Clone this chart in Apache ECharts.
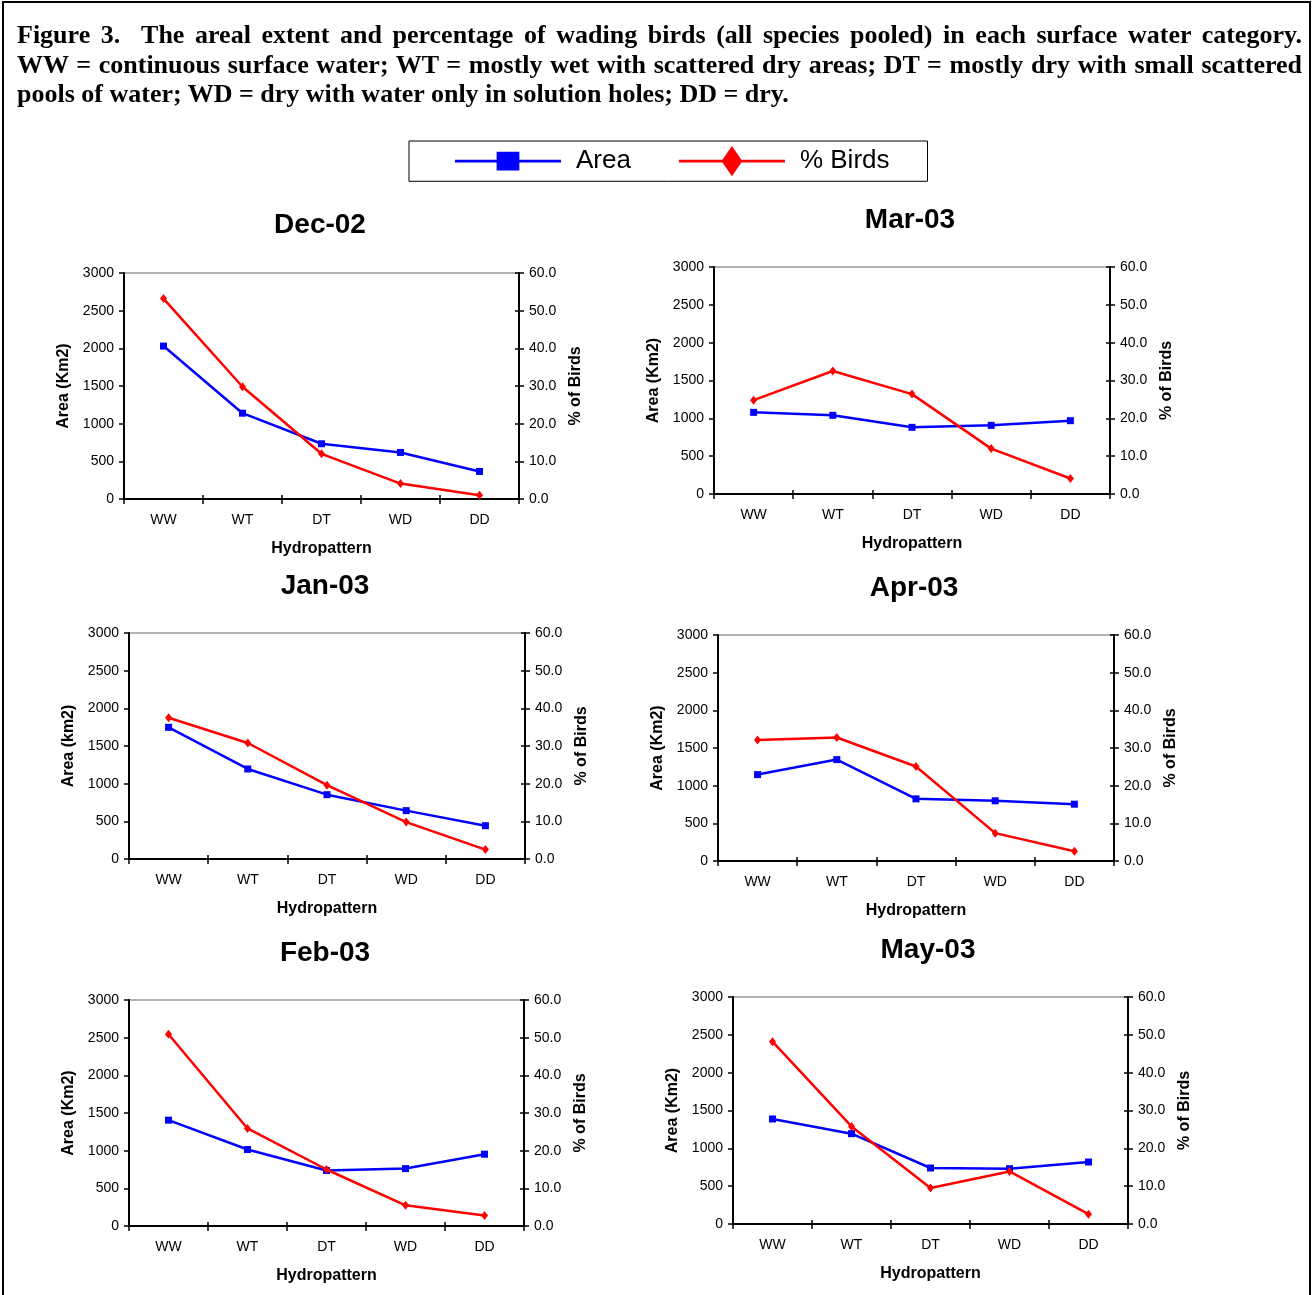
<!DOCTYPE html>
<html>
<head>
<meta charset="utf-8">
<title>Figure 3</title>
<script src="https://cdn.jsdelivr.net/npm/echarts@6/dist/echarts.min.js"></script>
<style>
  html, body { margin: 0; padding: 0; background: #fff; }
  #frame {
    position: absolute; left: 2px; top: 1px; width: 1305px; height: 1310px;
    border: 2px solid #000; pointer-events: none;
  }
  #caption {
    position: absolute; left: 17px; top: 20px; width: 1285px;
    font-family: 'Liberation Serif', 'Times New Roman', serif; font-weight: bold;
    font-size: 26px; line-height: 29.5px; color: #000;
  }
  #caption div { white-space: nowrap; }
  #caption .j { text-align: justify; text-align-last: justify; }
  #chart { position: absolute; left: 0; top: 0; width: 1312px; height: 1295px; }
</style>
</head>
<body>
<div id="chart"></div>
<div id="caption">
  <div class="j">Figure 3.&nbsp; The areal extent and percentage of wading birds (all species pooled) in each surface water category.</div>
  <div class="j">WW = continuous surface water; WT = mostly wet with scattered dry areas; DT = mostly dry with small scattered</div>
  <div>pools of water; WD = dry with water only in solution holes; DD = dry.</div>
</div>
<div id="frame"></div>
<script>
// categories and values
const categories = ['WW', 'WT', 'DT', 'WD', 'DD']
const panelTitles = ['Dec-02', 'Mar-03', 'Jan-03', 'Apr-03', 'Feb-03', 'May-03']
const areaNames = ['Area (Km2)', 'Area (Km2)', 'Area (km2)', 'Area (Km2)', 'Area (Km2)', 'Area (Km2)']

const areaDec02 = [2030, 1139, 733, 618, 366]
const birdsDec02 = [53.2, 29.8, 12.0, 4.1, 1.0]
const areaMar03 = [1079, 1040, 881, 907, 969]
const birdsMar03 = [24.8, 32.5, 26.4, 12.0, 4.1]
const areaJan03 = [1748, 1195, 854, 642, 442]
const birdsJan03 = [37.5, 30.8, 19.6, 9.8, 2.5]
const areaApr03 = [1147, 1346, 825, 799, 754]
const birdsApr03 = [32.1, 32.8, 25.1, 7.4, 2.6]
const areaFeb03 = [1405, 1015, 736, 762, 953]
const birdsFeb03 = [50.9, 25.9, 15.0, 5.5, 2.8]
const areaMay03 = [1388, 1194, 740, 731, 819]
const birdsMay03 = [48.2, 25.8, 9.5, 13.9, 2.6]

const areaSeries = [areaDec02, areaMar03, areaJan03, areaApr03, areaFeb03, areaMay03]
const birdSeries = [birdsDec02, birdsMar03, birdsJan03, birdsApr03, birdsFeb03, birdsMay03]

// axis ranges
const areaMax = 3000
const areaStep = 500
const birdsMax = 60
const birdsStep = 10

// panel placement: plot box [left, top, width, height], title centre [x, y]
const boxes = [
  [124, 273, 395, 226],
  [714, 267, 396, 227],
  [129, 633, 396, 226],
  [718, 635, 396, 226],
  [129, 1000, 395, 226],
  [733, 997, 395, 227]
]
const titleAt = [[320, 223], [910, 218], [325, 584], [914, 586], [325, 951], [928, 948]]

const FONT = "'Liberation Sans', Arial, sans-serif"
const BLUE = '#0000ff'
const RED = '#ff0000'

// legend glyphs: line with square / line with tall diamond (the tiny zero-area
// moves keep both boxes the same size so the square is not stretched)
const areaIcon = 'path://M0,0L0,0ZM112,32L112,32ZM0,14.5L44,14.5L44,6L68,6L68,14.5L112,14.5L112,17.5L68,17.5L68,26L44,26L44,17.5L0,17.5Z'
const birdsIcon = 'path://M0,14.5L46,14.5L56,0L66,14.5L112,14.5L112,17.5L66,17.5L56,32L46,17.5L0,17.5Z'

const chart = echarts.init(document.getElementById('chart'))

const grid = []
const xAxis = []
const yAxis = []
const series = []
const title = []

const nameStyle = { fontFamily: FONT, fontSize: 16, fontWeight: 'bold', color: '#000' }
const tickStyle = { color: '#000', width: 1.5 }
const labelStyle = { fontFamily: FONT, fontSize: 14, color: '#000' }

boxes.forEach((b, i) => {
  grid.push({
    left: b[0], top: b[1], width: b[2], height: b[3],
    show: true, borderColor: '#666', borderWidth: 1, backgroundColor: 'transparent'
  })
  title.push({
    text: panelTitles[i], left: titleAt[i][0], top: titleAt[i][1] - 12, textAlign: 'center', padding: 0,
    textStyle: { fontFamily: FONT, fontSize: 28, fontWeight: 'bold', color: '#000' }
  })
  xAxis.push({
    type: 'category', gridIndex: i, data: categories, boundaryGap: true,
    name: 'Hydropattern', nameLocation: 'middle', nameGap: 42, nameTextStyle: nameStyle,
    axisLine: { lineStyle: { color: '#000', width: 2 } },
    axisTick: { show: true, length: 5, alignWithLabel: false, lineStyle: tickStyle },
    axisLabel: { ...labelStyle, margin: 14 },
    splitLine: { show: false }
  })
  // inner half of the crossing ticks
  xAxis.push({
    type: 'category', gridIndex: i, data: categories, boundaryGap: true, position: 'bottom',
    axisLine: { show: false },
    axisTick: { show: true, inside: true, length: 4, alignWithLabel: false, lineStyle: tickStyle },
    axisLabel: { show: false }, splitLine: { show: false }
  })
  yAxis.push({
    type: 'value', gridIndex: i, position: 'left', min: 0, max: areaMax, interval: areaStep,
    name: areaNames[i], nameLocation: 'middle', nameGap: 52, nameTextStyle: nameStyle,
    axisLine: { show: true, lineStyle: { color: '#000', width: 2 } },
    axisTick: { show: true, length: 5, lineStyle: tickStyle },
    axisLabel: { ...labelStyle, margin: 10, formatter: v => String(v) },
    splitLine: { show: false }
  })
  yAxis.push({
    type: 'value', gridIndex: i, position: 'right', min: 0, max: birdsMax, interval: birdsStep,
    name: '% of Birds', nameLocation: 'middle', nameGap: 49, nameRotate: 90, nameTextStyle: nameStyle,
    axisLine: { show: true, lineStyle: { color: '#000', width: 2 } },
    axisTick: { show: true, length: 5, lineStyle: tickStyle },
    axisLabel: { ...labelStyle, margin: 10, formatter: v => v.toFixed(1) },
    splitLine: { show: false }
  })
  yAxis.push({
    type: 'value', gridIndex: i, position: 'right', offset: 0, min: 0, max: birdsMax, interval: birdsStep,
    axisLine: { show: false },
    axisTick: { show: true, inside: true, length: 4, lineStyle: tickStyle },
    axisLabel: { show: false }, splitLine: { show: false }
  })
  series.push({
    name: 'Area', type: 'line', xAxisIndex: i * 2, yAxisIndex: i * 3, data: areaSeries[i],
    symbol: 'rect', symbolSize: 7, color: BLUE,
    lineStyle: { color: BLUE, width: 2.5 }, itemStyle: { color: BLUE },
    animation: false, z: 3
  })
  series.push({
    name: '% Birds', type: 'line', xAxisIndex: i * 2, yAxisIndex: i * 3 + 1, data: birdSeries[i],
    symbol: 'diamond', symbolSize: [7, 9], color: RED,
    lineStyle: { color: RED, width: 2.5 }, itemStyle: { color: RED },
    animation: false, z: 4
  })
})

chart.setOption({
  animation: false,
  title: title,
  legend: {
    data: [
      { name: 'Area', icon: areaIcon },
      { name: '% Birds', icon: birdsIcon }
    ],
    left: 409, top: 141,
    padding: [5, 38, 5, 46],
    itemWidth: 106, itemHeight: 32, itemGap: 48,
    borderColor: '#000', borderWidth: 1,
    textStyle: { fontFamily: FONT, fontSize: 26, color: '#000', padding: [0, 0, 0, 10] }
  },
  grid: grid,
  xAxis: xAxis,
  yAxis: yAxis,
  series: series
})
</script>
</body>
</html>
